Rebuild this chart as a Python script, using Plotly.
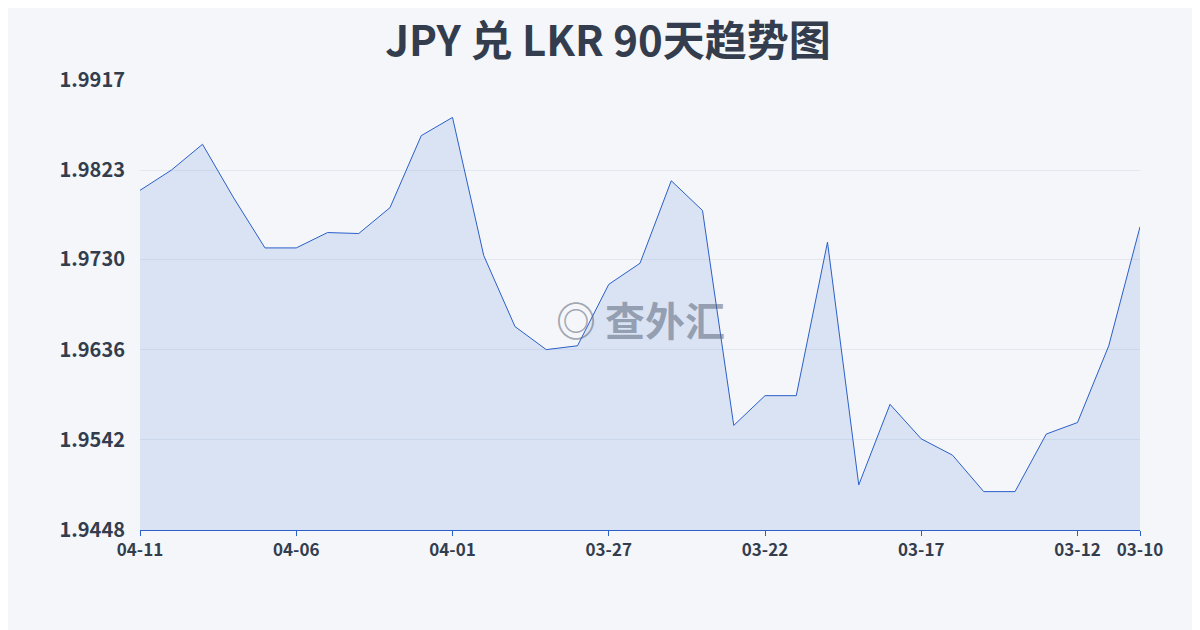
import plotly.graph_objects as go

dates = ["04-11", "04-10", "04-09", "04-08", "04-07", "04-06", "04-05", "04-04", "04-03",
         "04-02", "04-01", "03-31", "03-30", "03-29", "03-28", "03-27", "03-26", "03-25",
         "03-24", "03-23", "03-22", "03-21", "03-20", "03-19", "03-18", "03-17", "03-16",
         "03-15", "03-14", "03-13", "03-12", "03-11", "03-10"]
rates = [1.9802, 1.9823, 1.9850, 1.9794, 1.9742, 1.9742, 1.9758, 1.9757, 1.9784,
         1.9859, 1.9878, 1.9734, 1.9660, 1.9636, 1.9640, 1.9704, 1.9726, 1.9812,
         1.9781, 1.9557, 1.9588, 1.9588, 1.9748, 1.9495, 1.9579, 1.9543, 1.9526,
         1.9488, 1.9488, 1.9548, 1.9560, 1.9640, 1.9764]
y_ticks = [1.9448, 1.9542, 1.9636, 1.9730, 1.9823, 1.9917]
x_ticks = ["04-11", "04-06", "04-01", "03-27", "03-22", "03-17", "03-12", "03-10"]

fig = go.Figure()
fig.add_trace(go.Scatter(
    x=list(range(len(dates))), y=rates, mode="lines",
    line=dict(color="#2b5fc9", width=1),
    fill="tozeroy", fillcolor="rgba(80,130,220,0.16)",
    hoverinfo="skip",
))

fig.update_layout(
    width=1200, height=630,
    margin=dict(l=132, r=68, t=72, b=108),
    paper_bgcolor="#f4f6f9", plot_bgcolor="rgba(0,0,0,0)",
    showlegend=False,
    font=dict(family="Noto Sans CJK SC", color="#333d4d"),
    title=dict(text="<b>JPY 兑 LKR 90天趋势图</b>", x=0.5, y=0.97, xanchor="center",
               yanchor="top", font=dict(size=42, color="#333d4d")),
)
fig.update_xaxes(
    range=[0, len(dates) - 1],
    tickvals=[dates.index(d) for d in x_ticks], ticktext=[f"<b>{d}</b>" for d in x_ticks],
    tickfont=dict(size=17, color="#333d4d", family="Noto Sans CJK SC"),
    showgrid=False, showline=True, linecolor="#2b5fc9", linewidth=1,
    ticks="outside", tickcolor="#2b5fc9", ticklen=5, zeroline=False,
)
fig.update_yaxes(
    range=[y_ticks[0], y_ticks[-1]],
    tickvals=y_ticks, ticktext=[f"<b>{v:.4f}</b>" for v in y_ticks],
    tickfont=dict(size=20, color="#333d4d", family="Noto Sans CJK SC"),
    showgrid=True, gridcolor="#e3e7ee", zeroline=False, showline=False,
    ticks="", ticklabelstandoff=14,
)

fig.add_annotation(
    x=0.5, y=0.47, xref="paper", yref="paper",
    text="<b>◎ 查外汇</b>", showarrow=False,
    font=dict(size=40, color="rgba(90,100,120,0.55)", family="Noto Sans CJK SC"),
)

fig.write_html("out.html")
